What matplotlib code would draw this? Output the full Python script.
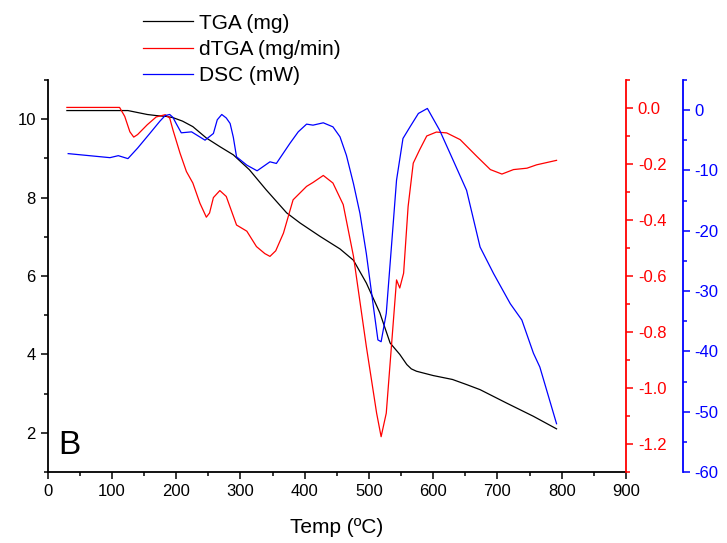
import matplotlib.pyplot as plt
from matplotlib.ticker import MultipleLocator

plt.rcParams["font.family"] = ["Liberation Sans", "DejaVu Sans"]
plt.rcParams["axes.unicode_minus"] = False

# TGA curve (mg)
tga_t = [30, 125, 140, 155, 170, 185, 195, 210, 226, 247, 268, 289, 314, 340,
         372, 393, 424, 455, 476, 496, 517, 533, 548, 559, 566, 574, 600, 630,
         652, 673, 714, 756, 792]
tga_v = [10.22, 10.22, 10.17, 10.12, 10.09, 10.07, 10.04, 9.95, 9.81, 9.52, 9.30,
         9.09, 8.71, 8.20, 7.61, 7.35, 7.01, 6.69, 6.40, 5.82, 5.06, 4.29, 4.00,
         3.74, 3.63, 3.57, 3.46, 3.36, 3.23, 3.10, 2.76, 2.42, 2.10]

# dTGA curve (mg/min)
dtga_t = [30, 112, 120, 128, 134, 140, 155, 169, 183, 190, 195, 206, 216, 226,
          237, 247, 252, 258, 268, 278, 294, 310, 325, 338, 346, 355, 367, 382,
          403, 413, 429, 444, 460, 476, 496, 512, 519, 527, 535, 543, 548, 554,
          561, 569, 579, 590, 605, 621, 642, 668, 689, 707, 725, 746, 761, 792]
dtga_v = [0.002, 0.002, -0.03, -0.085, -0.104, -0.095, -0.06, -0.032, -0.024,
          -0.036, -0.078, -0.161, -0.227, -0.268, -0.34, -0.39, -0.375, -0.32,
          -0.295, -0.316, -0.418, -0.44, -0.495, -0.52, -0.53, -0.51, -0.447,
          -0.328, -0.28, -0.266, -0.241, -0.268, -0.345, -0.53, -0.852, -1.09,
          -1.174, -1.09, -0.852, -0.614, -0.643, -0.59, -0.352, -0.197, -0.149,
          -0.10, -0.086, -0.089, -0.113, -0.173, -0.22, -0.236, -0.22, -0.215,
          -0.203, -0.187]

# DSC curve (mW)
dsc_t = [32, 97, 110, 125, 140, 159, 175, 183, 190, 195, 200, 208, 224, 245,
         258, 264, 271, 278, 284, 289, 294, 310, 326, 346, 356, 377, 390, 403,
         413, 429, 444, 455, 465, 476, 486, 496, 507, 514, 519, 527, 535, 543,
         553, 564, 577, 591, 610, 631, 652, 673, 694, 720, 738, 756, 766, 792]
dsc_v = [-7.21, -7.88, -7.55, -8.04, -6.3, -3.87, -1.8, -0.9, -0.72, -1.2,
         -2.21, -3.76, -3.6, -4.98, -3.87, -1.6, -0.72, -1.3, -2.21, -4.5, -7.74,
         -9.12, -10.06, -8.57, -8.84, -5.52, -3.6, -2.32, -2.49, -2.1, -2.77,
         -4.42, -7.5, -12.2, -17.1, -23.8, -32.6, -38.1, -38.4, -33.7, -22.7,
         -11.6, -4.7, -2.77, -0.55, 0.28, -3.32, -8.29, -13.3, -22.7, -27.1,
         -32.1, -34.8, -40.3, -42.6, -52.0]

fig = plt.figure(figsize=(7.27, 5.43), dpi=100)
ax = fig.add_axes([0.0655, 0.1308, 0.7955, 0.7219])
ax2 = ax.twinx()
ax3 = ax.twinx()

l1, = ax.plot(tga_t, tga_v, color="black", lw=0.9, label="TGA (mg)")
l2, = ax2.plot(dtga_t, dtga_v, color="red", lw=0.9, label="dTGA (mg/min)")
l3, = ax3.plot(dsc_t, dsc_v, color="blue", lw=0.9, label="DSC (mW)")

ax.set_xlim(0, 900)
ax.set_ylim(1, 11)
ax2.set_ylim(-1.3, 0.1)
ax3.set_ylim(-60, 5)

ax.xaxis.set_major_locator(MultipleLocator(100))
ax.xaxis.set_minor_locator(MultipleLocator(50))
ax.yaxis.set_major_locator(MultipleLocator(2))
ax.yaxis.set_minor_locator(MultipleLocator(1))
ax2.yaxis.set_major_locator(MultipleLocator(0.2))
ax2.yaxis.set_minor_locator(MultipleLocator(0.1))
ax2.yaxis.set_major_formatter("{x:.1f}")
ax3.yaxis.set_major_locator(MultipleLocator(10))
ax3.yaxis.set_minor_locator(MultipleLocator(5))

for a in (ax, ax2, ax3):
    a.spines["top"].set_visible(False)
    for s in a.spines.values():
        s.set_linewidth(1.3)
ax.spines["right"].set_visible(False)
ax2.spines["left"].set_visible(False)
ax3.spines["left"].set_visible(False)
ax2.spines["bottom"].set_visible(False)
ax3.spines["bottom"].set_visible(False)
ax2.spines["right"].set_color("red")
ax3.spines["right"].set_color("blue")
ax3.spines["right"].set_position(("outward", 41))

ax.tick_params(which="major", direction="out", length=5, width=1.1, labelsize=12)
ax.tick_params(which="minor", direction="out", length=3, width=1.1)
ax2.tick_params(which="major", direction="out", length=5, width=1.1,
                labelsize=12, colors="red")
ax2.tick_params(which="minor", direction="out", length=3, width=1.1, colors="red")
ax3.tick_params(which="major", direction="out", length=5, width=1.1,
                labelsize=12, colors="blue")
ax3.tick_params(which="minor", direction="out", length=3, width=1.1, colors="blue")

ax.set_xlabel("Temp (ºC)", fontsize=15, labelpad=14)
ax.text(16, 1.45, "B", fontsize=24)

fig.legend(handles=[l1, l2, l3], loc="upper left",
           bbox_to_anchor=(0.197, 0.975), frameon=False, fontsize=15,
           handlelength=2.4, handletextpad=0.3, labelspacing=0.35,
           borderpad=0, borderaxespad=0)

fig.savefig("out.png", dpi=100)
